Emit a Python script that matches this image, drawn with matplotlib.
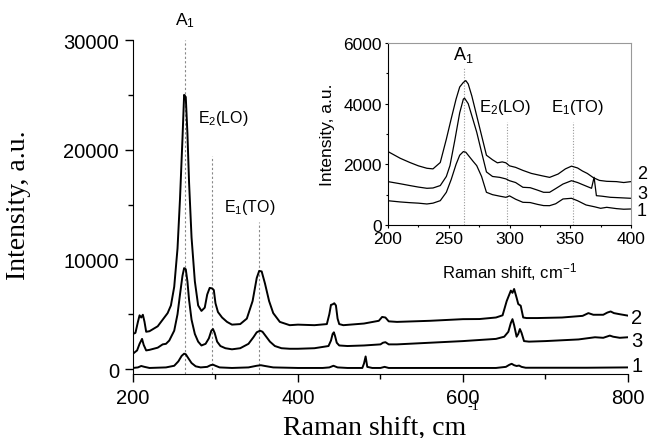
import numpy as np
import matplotlib.pyplot as plt
from matplotlib.ticker import MultipleLocator

plt.rcParams['font.family'] = ['Liberation Sans', 'DejaVu Sans']
plt.rcParams['mathtext.default'] = 'regular'

# main spectra, curves 1-3
c2_x = [200, 203, 206, 208, 210, 212, 214, 216, 220, 230, 236, 242, 246, 250, 254, 257, 260, 262, 264,
        266, 268, 271, 275, 279, 283, 287, 290, 293, 296, 298, 300, 303, 308, 314, 320, 330, 338, 345,
        350, 353, 356, 360, 365, 370, 378, 390, 400, 420, 435, 438, 440, 442, 444, 446, 448, 450, 455,
        480, 498, 502, 506, 510, 520, 560, 600, 620, 640, 648, 653, 658, 660, 662, 665, 667, 670, 673,
        677, 690, 720, 745, 752, 758, 770, 775, 779, 783, 790, 800]
c2_y = [3200, 3300, 4300, 4900, 4700, 4950, 4300, 3400, 3450, 3900, 4500, 5100, 5800, 7500, 11000,
        15500, 21000, 25000, 24800, 21500, 17000, 12000, 8000, 5800, 5300, 5600, 6800, 7400, 7350, 7200,
        6000, 5200, 4700, 4300, 4050, 4100, 4600, 6200, 8300, 8950, 8900, 7800, 6200, 5100, 4300, 4000,
        4050, 4000, 4100, 5000, 5850, 5900, 6000, 5800, 4600, 4100, 4000, 4150, 4400, 4750, 4700, 4350,
        4300, 4400, 4550, 4560, 4700, 4900, 6200, 7150, 6950, 7300, 6500, 5930, 5770, 4700, 4650, 4650,
        4700, 4850, 5100, 4950, 4950, 5150, 5250, 5100, 5000, 4870]

c3_x = [200, 205, 208, 211, 213, 216, 220, 230, 236, 240, 244, 250, 254, 257, 260, 262, 264, 266, 268,
        271, 275, 279, 283, 288, 292, 295, 297, 299, 302, 306, 312, 320, 330, 340, 346, 350, 354, 357,
        361, 366, 372, 380, 390, 400, 420, 437, 440, 442, 443.5, 445, 447, 450, 460, 480, 500, 503, 506,
        510, 520, 560, 600, 640, 650, 655, 658, 660, 662, 665, 667, 669, 671, 674, 680, 700, 740, 760,
        770, 778, 782, 790, 800]
c3_y = [1400, 1700, 2300, 2750, 2200, 1700, 1750, 1950, 2250, 2300, 2600, 3500, 5000, 6800, 8500, 9200,
        9100, 8000, 6300, 4500, 3200, 2500, 2150, 2300, 2800, 3500, 3650, 3300, 2500, 2100, 1900, 1800,
        1900, 2300, 2900, 3350, 3500, 3400, 3000, 2500, 2100, 1900, 1850, 1850, 1900, 2100, 2600, 3200,
        3350, 3000, 2400, 2150, 2100, 2150, 2250, 2400, 2450, 2250, 2250, 2400, 2550, 2750, 2950, 3400,
        4200, 4550, 4000, 2950, 3200, 3650, 3300, 2550, 2500, 2550, 2700, 2900, 2850, 3050, 2950, 2850,
        2900]

c1_x = [200, 206, 210, 214, 220, 240, 250, 255, 259, 262, 264, 267, 271, 276, 282, 290, 294, 297, 300,
        305, 320, 340, 350, 355, 360, 370, 400, 430, 438, 443, 448, 460, 478, 480, 482, 484, 490, 500,
        505, 510, 550, 600, 640, 652, 656, 659, 662, 665, 668, 671, 676, 700, 750, 800]
c1_y = [100, 150, 280, 200, 100, 150, 300, 700, 1200, 1400, 1350, 1000, 550, 250, 150, 200, 350, 400,
        300, 150, 100, 150, 300, 350, 280, 150, 100, 100, 150, 300, 150, 100, 100, 500, 1150, 200, 100,
        100, 200, 100, 100, 100, 100, 200, 380, 480, 350, 280, 320, 200, 120, 120, 120, 150]

# inset spectra
i2_x = [200, 210, 218, 225, 232, 237, 243, 248, 252, 256, 259, 262, 264, 266, 269, 273, 277, 281, 286,
        290, 294, 297, 300, 305, 311, 318, 327, 333, 340, 346, 351, 356, 360, 364, 369, 374, 380, 388,
        394, 400]
i2_y = [2420, 2200, 2060, 1950, 1870, 1850, 2060, 2830, 3500, 4150, 4550, 4700, 4760, 4650, 4250, 3600,
        2950, 2300, 2150, 2050, 2080, 2050, 1950, 1900, 1800, 1700, 1620, 1570, 1680, 1850, 1940, 1880,
        1780, 1700, 1560, 1470, 1440, 1430, 1400, 1430]

i3_x = [200, 210, 218, 225, 232, 237, 243, 248, 251, 255, 259, 262, 263, 266, 269, 273, 277, 281, 286,
        292, 297, 300, 305, 311, 317, 323, 328, 333, 338, 344, 351, 356, 362, 367.5, 369.6, 371.5, 376,
        383, 390, 400]
i3_y = [1430, 1360, 1300, 1250, 1210, 1220, 1300, 1600, 1960, 2800, 3700, 4150, 4180, 4000, 3600, 3060,
        2400, 1750, 1600, 1570, 1520, 1460, 1400, 1243, 1230, 1150, 1078, 1078, 1200, 1350, 1460, 1400,
        1300, 1210, 1573, 967, 950, 913, 900, 880]

i1_x = [200, 210, 218, 225, 232, 237, 243, 248, 252, 256, 259, 262, 264, 267, 270, 273, 277, 281, 286,
        292, 297, 300, 305, 311, 317, 323, 328, 333, 338, 344, 351, 356, 363, 370, 375, 380, 388, 394,
        400]
i1_y = [800, 760, 736, 720, 693, 720, 802, 1078, 1500, 2000, 2300, 2420, 2400, 2250, 2100, 1957, 1600,
        1078, 1000, 950, 913, 960, 850, 748, 740, 680, 640, 637, 700, 858, 880, 800, 660, 600, 550, 583,
        540, 520, 528]

peak_pos = [262.5, 295.5, 352.7]
peak_top = [30000, 19400, 13400]
peak_labels = ['A$_1$', 'E$_2$(LO)', 'E$_1$(TO)']

fig = plt.figure(figsize=(6.48, 4.39), dpi=100)
ax = fig.add_axes([0.2052, 0.1458, 0.7639, 0.7608])

ax.vlines(peak_pos, -450, peak_top, colors='#888888', linestyles=(0, (2, 2)), linewidth=0.8)
for xs, ys in [(c2_x, c2_y), (c3_x, c3_y), (c1_x, c1_y)]:
    ax.plot(xs, ys, color='black', linewidth=1.4)

ax.set_xlim(200, 800)
ax.set_ylim(-450, 30000)
ax.spines['top'].set_visible(False)
ax.spines['right'].set_visible(False)
ax.xaxis.set_major_locator(MultipleLocator(200))
ax.xaxis.set_minor_locator(MultipleLocator(100))
ax.yaxis.set_major_locator(MultipleLocator(10000))
ax.yaxis.set_minor_locator(MultipleLocator(5000))
ax.tick_params(which='major', direction='out', length=6, width=1, labelsize=14.5, pad=4)
ax.tick_params(which='minor', direction='out', length=3.5, width=1)

ax.text(263, 31900, peak_labels[0], ha='center', va='center', fontsize=12.5, clip_on=False)
ax.text(309, 22980, peak_labels[1], ha='center', va='center', fontsize=11.5)
ax.text(342, 14775, peak_labels[2], ha='center', va='center', fontsize=11.5)

for lab, yv in zip(['2', '3', '1'], [4740, 2580, 300]):
    ax.text(804, yv, lab, ha='left', va='center', fontsize=14.5, clip_on=False)

fig.text(375 / 648, 1 - 428 / 439, 'Raman shift, cm', family='Liberation Serif', fontsize=20,
         ha='center', va='center')
fig.text(473 / 648, 1 - 407 / 439, '-1', family='Liberation Serif', fontsize=10,
         ha='center', va='center')
fig.text(19 / 648, 1 - 205 / 439, 'Intensity, a.u.', family='Liberation Serif', fontsize=20,
         ha='center', va='center', rotation=90)

# inset
ins = fig.add_axes([0.5988, 0.4852, 0.375, 0.4146])
ins.vlines([262.5, 297.7, 352.5], 0, [5180, 3400, 3400], colors='#999999',
           linestyles=(0, (1, 1.5)), linewidth=0.8)
for xs, ys in [(i2_x, i2_y), (i3_x, i3_y), (i1_x, i1_y)]:
    ins.plot(xs, ys, color='black', linewidth=0.9)
ins.set_xlim(200, 400)
ins.set_ylim(0, 6000)
ins.spines['top'].set_color('#999999')
ins.spines['right'].set_color('#999999')
ins.xaxis.set_major_locator(MultipleLocator(50))
ins.xaxis.set_minor_locator(MultipleLocator(25))
ins.yaxis.set_major_locator(MultipleLocator(2000))
ins.yaxis.set_minor_locator(MultipleLocator(1000))
ins.tick_params(which='major', direction='out', length=2.5, width=0.8, labelsize=12.5, pad=2)
ins.tick_params(which='minor', direction='out', length=1.5, width=0.8)
ins.set_xlabel('Raman shift, cm$^{-1}$', fontsize=12, labelpad=10)
ins.set_ylabel('Intensity, a.u.', fontsize=12.5, labelpad=6)

ins.text(261.7, 5640, peak_labels[0], ha='center', va='center', fontsize=13)
ins.text(296.3, 3894, peak_labels[1], ha='center', va='center', fontsize=12)
ins.text(356.4, 3894, peak_labels[2], ha='center', va='center', fontsize=12)
for lab, yv in zip(['2', '3', '1'], [1683, 1023, 472]):
    ins.text(405, yv, lab, ha='left', va='center', fontsize=13, clip_on=False)

fig.savefig('out.png', dpi=100)
